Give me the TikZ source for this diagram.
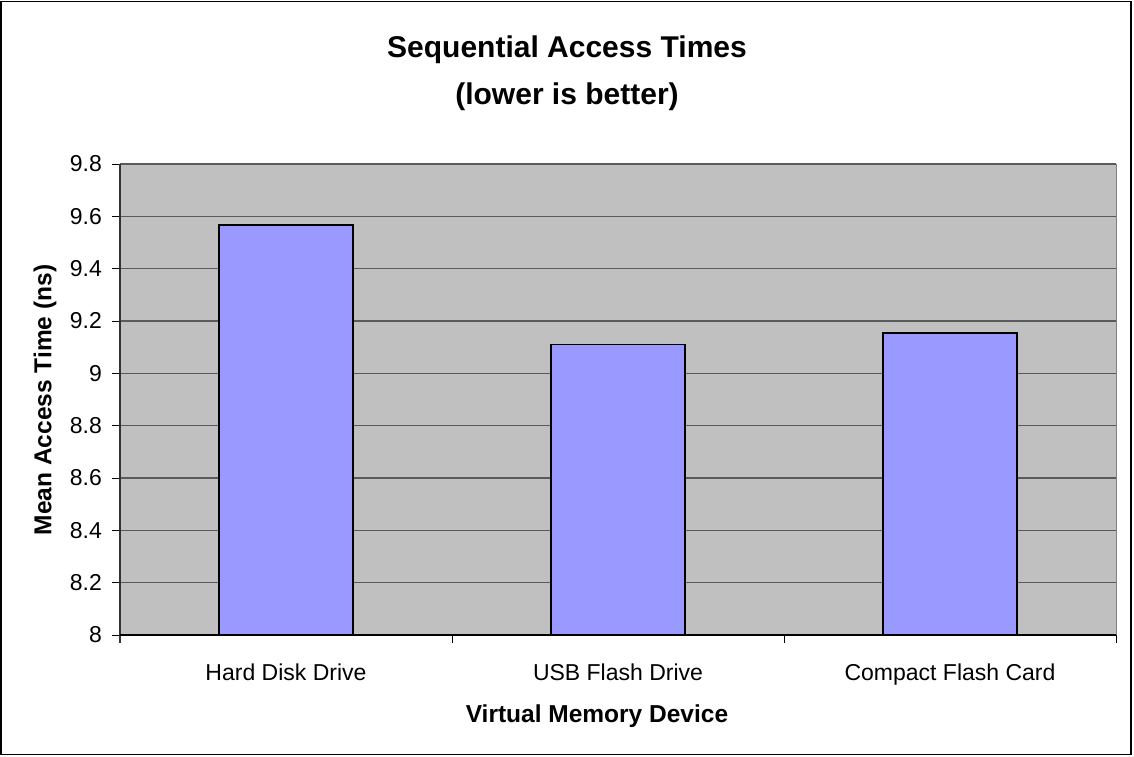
\documentclass[tikz,border=0pt]{standalone}
\usepackage{fontspec}
\setmainfont{Liberation Sans}
\definecolor{plotbg}{HTML}{C0C0C0}
\definecolor{barfill}{HTML}{9999FF}
\definecolor{gridc}{HTML}{5A5A5A}
\begin{document}
\begin{tikzpicture}[x=1pt,y=-1pt,
  ticklbl/.style={font=\fontsize{23}{27}\selectfont, inner sep=0pt},
  catlbl/.style={font=\fontsize{23}{27}\selectfont, inner sep=0pt, anchor=base},
  axtitle/.style={font=\fontsize{24.5}{29}\selectfont\bfseries, inner sep=0pt},
  charttitle/.style={font=\fontsize{30}{35}\selectfont\bfseries, inner sep=0pt, anchor=base},
  gridline/.style={draw=gridc, line width=1.6pt},
  barbox/.style={draw=black, line width=1.8pt, fill=barfill},
  tickmark/.style={draw=black, line width=1pt}]
  \useasboundingbox (0,0) rectangle (1134,756);
  % chart frame
  \draw[fill=white, line width=1.5pt] (1,1.5) rectangle (1131,754.5);
  % plot area
  \fill[plotbg] (120,164) rectangle (1116,635);
  \draw[draw=gray, line width=1pt] (120,164) -- (1116,164) -- (1116,635);
  % horizontal gridlines, 8.2 .. 9.8 step 0.2
  \foreach \i in {1,...,9}{
    \pgfmathsetmacro{\yy}{635-\i*52.333}
    \draw[gridline] (120,\yy) -- (1116,\yy);
  }
  % value ticks and labels
  \foreach \i/\lab in {0/8,1/8.2,2/8.4,3/8.6,4/8.8,5/9,6/9.2,7/9.4,8/9.6,9/9.8}{
    \pgfmathsetmacro{\yy}{635-\i*52.333}
    \draw[tickmark] (112,\yy) -- (120,\yy);
    \node[ticklbl, anchor=east] (yl\i) at (102,\yy) {\lab};
  }
  % bars: y = 635 - (v-8)*261.67
  \pgfmathsetmacro{\ha}{635-(9.566-8)*261.67}
  \pgfmathsetmacro{\hb}{635-(9.110-8)*261.67}
  \pgfmathsetmacro{\hc}{635-(9.155-8)*261.67}
  \draw[barbox] (219,635) rectangle (353,\ha);
  \draw[barbox] (551,635) rectangle (685,\hb);
  \draw[barbox] (883,635) rectangle (1017,\hc);
  % axes
  \draw[draw=black!80, line width=1.4pt] (120,164) -- (120,643);
  \draw[draw=black, line width=1.4pt] (120,635) -- (1116,635);
  \foreach \x in {452,784,1116}{
    \draw[tickmark] (\x,635) -- (\x,643);
  }
  % category labels
  \node[catlbl] (c1) at (286,680) {Hard Disk Drive};
  \node[catlbl] (c2) at (618,680) {USB Flash Drive};
  \node[catlbl] (c3) at (950,680) {Compact Flash Card};
  % axis titles
  \node[axtitle, anchor=base] (xt) at (597,722) {Virtual Memory Device};
  \node[axtitle, rotate=90] (yt) at (45,400) {Mean Access Time (ns)};
  % chart title
  \node[charttitle] (t1) at (567,57) {Sequential Access Times};
  \node[charttitle] (t2) at (567,104) {(lower is better)};
\end{tikzpicture}
\end{document}
